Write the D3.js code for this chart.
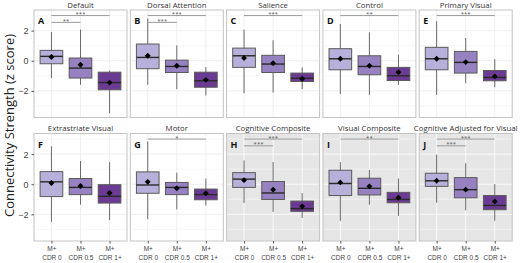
<!DOCTYPE html>
<html>
<head>
<meta charset="utf-8">
<script src="https://cdn.jsdelivr.net/npm/d3@7"></script>
<style>
  body { margin: 0; background: #fff; }
  svg { display: block; font-family: "Open Sans", "Noto Sans", sans-serif; }
</style>
</head>
<body>
<div id="chart"></div>
<script>
// Panel titles / letters (facet order, row-wise)
const panelTitles = ["Default", "Dorsal Attention", "Salience", "Control", "Primary Visual",
  "Extrastriate Visual", "Motor", "Cognitive Composite", "Visual Composite", "Cognitive Adjusted for Visual"];
const panelLetters = ["A", "B", "C", "D", "E", "F", "G", "H", "I", "J"];
const greyPanels = [false, false, false, false, false, false, false, true, true, true];
const groups = ["CDR 0", "CDR 0.5", "CDR 1+"];
const yTicks = [-2, 0, 2];

// box statistics per panel, per group (CDR 0, CDR 0.5, CDR 1+)
const whiskerHigh = [
  [1.91, 2.07, -0.65], [2.8, 1.02, -0.42], [2.07, 1.36, -0.44], [2.44, 1.89, 0.4], [2.62, 1.51, 0.11],
  [2.52, 1.54, 1.47], [2.84, 0.77, 0.38], [1.58, 1.47, -0.58], [1.47, 0.95, 0.38], [1.97, 1.39, 0.01]
];
const q3 = [
  [0.69, 0.18, -0.76], [1.11, 0.04, -0.76], [0.84, 0.36, -0.82], [0.8, 0.33, -0.44], [0.89, 0.62, -0.65],
  [0.84, 0.38, -0.03], [0.82, 0.12, -0.32], [0.77, 0.18, -1.12], [0.93, 0.4, -0.54], [0.73, 0.44, -0.75]
];
const medians = [
  [0.29, -0.49, -1.45], [0.22, -0.38, -1.33], [0.33, -0.22, -1.16], [0.13, -0.38, -1.0], [0.13, -0.11, -1.11],
  [0.16, -0.21, -0.8], [-0.05, -0.21, -0.69], [0.34, -0.58, -1.62], [0.05, -0.27, -1.01], [0.23, -0.36, -1.41]
];
const q1 = [
  [-0.2, -1.15, -1.93], [-0.53, -0.78, -1.76], [-0.44, -0.78, -1.38], [-0.6, -0.93, -1.31], [-0.6, -0.82, -1.33],
  [-0.82, -0.69, -1.25], [-0.6, -0.69, -1.03], [-0.21, -1.01, -1.8], [-0.75, -0.71, -1.23], [-0.14, -0.9, -1.69]
];
const whiskerLow = [
  [-1.15, -1.6, -3.49], [-1.6, -1.89, -2.31], [-2.16, -2.11, -1.89], [-2.22, -2.27, -1.6], [-2.27, -1.49, -1.76],
  [-2.5, -1.36, -2.39], [-2.32, -1.67, -1.41], [-1.25, -1.84, -2.24], [-2.43, -1.36, -2.1], [-1.23, -1.73, -2.43]
];
const means = [
  [0.25, -0.27, -1.45], [0.33, -0.33, -1.27], [0.18, -0.16, -1.2], [0.13, -0.33, -0.76], [0.13, -0.09, -1.04],
  [0.08, -0.12, -0.58], [0.16, -0.27, -0.6], [0.27, -0.36, -1.47], [0.12, -0.14, -0.9], [0.23, -0.36, -1.14]
];
// significance: CDR 0 vs CDR 1+ (upper bar) and CDR 0 vs CDR 0.5 (lower bar); "" = none
const sigVs1 = ["***", "***", "***", "**", "***", "", "*", "***", "**", "***"];
const sigVs05 = ["**", "***", "", "", "", "", "", "***", "", "***"];
const sigLevels = [3.0, 2.55];

const fills = ["#b7b0da", "#9682c1", "#6b3a93"];

const W = 520, H = 263;
const panelW = 93, panelH = 107.5;
const colStep = 96.3, left0 = 34;
const rowTops = [10, 133.5];

const svg = d3.select("#chart").append("svg")
  .attr("width", W).attr("height", H);

const y = d3.scaleLinear().domain([-3.77, 3.37]).range([panelH, 0]);
const x = d3.scalePoint().domain(groups).range([0, panelW]).padding(0.6);
const boxW = x.step() * 0.78;

panelTitles.forEach((title, i) => {
  const row = Math.floor(i / 5), col = i % 5;
  const g = svg.append("g")
    .attr("transform", `translate(${left0 + col * colStep},${rowTops[row]})`);
  const grey = greyPanels[i];

  g.append("rect")
    .attr("width", panelW).attr("height", panelH)
    .attr("fill", grey ? "#e6e6e6" : "#fff");

  // grid lines
  const gridColor = grey ? "#fafafa" : "#efefef";
  g.selectAll(".minor").data([-3, -1, 1, 3]).enter().append("line")
    .attr("x1", 0).attr("x2", panelW)
    .attr("y1", d => y(d)).attr("y2", d => y(d))
    .attr("stroke", gridColor).attr("stroke-width", 0.5);
  g.selectAll(".major").data(yTicks).enter().append("line")
    .attr("x1", 0).attr("x2", panelW)
    .attr("y1", d => y(d)).attr("y2", d => y(d))
    .attr("stroke", gridColor).attr("stroke-width", 1);
  g.selectAll(".vgrid").data(groups).enter().append("line")
    .attr("x1", d => x(d)).attr("x2", d => x(d))
    .attr("y1", 0).attr("y2", panelH)
    .attr("stroke", gridColor).attr("stroke-width", 1);

  g.append("rect")
    .attr("width", panelW).attr("height", panelH)
    .attr("fill", "none").attr("stroke", "#c4c4c4").attr("stroke-width", 1);

  // title
  g.append("text")
    .attr("x", panelW / 2).attr("y", -2.5)
    .attr("text-anchor", "middle")
    .style("font-size", "7.8px").style("fill", "#333")
    .text(title);

  // letter
  g.append("text")
    .attr("x", 4).attr("y", 14)
    .style("font-size", "9px").style("font-weight", "bold").style("fill", "#111")
    .text(panelLetters[i]);

  const stats = groups.map((grp, j) => ({
    grp, j,
    hi: whiskerHigh[i][j], q3: q3[i][j], med: medians[i][j],
    q1: q1[i][j], lo: whiskerLow[i][j], mean: means[i][j]
  }));

  // whiskers
  g.selectAll(".whisker").data(stats).enter().append("line")
    .attr("x1", d => x(d.grp)).attr("x2", d => x(d.grp))
    .attr("y1", d => y(d.hi)).attr("y2", d => y(d.lo))
    .attr("stroke", "#6a6a6a").attr("stroke-width", 1);

  // boxes
  g.selectAll(".box").data(stats).enter().append("rect")
    .attr("x", d => x(d.grp) - boxW / 2).attr("width", boxW)
    .attr("y", d => y(d.q3)).attr("height", d => y(d.q1) - y(d.q3))
    .attr("fill", d => fills[d.j])
    .attr("stroke", "#5a5a5a").attr("stroke-width", 1);

  // medians
  g.selectAll(".median").data(stats).enter().append("line")
    .attr("x1", d => x(d.grp) - boxW / 2).attr("x2", d => x(d.grp) + boxW / 2)
    .attr("y1", d => y(d.med)).attr("y2", d => y(d.med))
    .attr("stroke", "#2a2a2a").attr("stroke-width", 1.4);

  // means
  g.selectAll(".mean").data(stats).enter().append("path")
    .attr("d", d3.symbol(d3.symbolDiamond2, 22))
    .attr("transform", d => `translate(${x(d.grp)},${y(d.mean)})`)
    .attr("fill", "#000");

  // significance bars
  const sig = [];
  if (sigVs1[i]) sig.push({ label: sigVs1[i], to: groups[2], level: sigLevels[0] });
  if (sigVs05[i]) sig.push({ label: sigVs05[i], to: groups[1], level: sigLevels[1] });
  sig.forEach(s => {
    g.append("line")
      .attr("x1", x(groups[0])).attr("x2", x(s.to))
      .attr("y1", y(s.level)).attr("y2", y(s.level))
      .attr("stroke", "#9a9a9a").attr("stroke-width", 1);
    g.append("text")
      .attr("x", (x(groups[0]) + x(s.to)) / 2).attr("y", y(s.level) + 0.5)
      .attr("text-anchor", "middle")
      .style("font-size", "6px").style("fill", "#555")
      .text(s.label);
  });

  // y axis on first column
  if (col === 0) {
    const ya = g.append("g").call(d3.axisLeft(y).tickValues(yTicks).tickSize(2.5).tickFormat(d3.format("d")));
    ya.select(".domain").remove();
    ya.selectAll("line").attr("stroke", "#555");
    ya.selectAll("text").style("font-size", "9px").style("fill", "#444")
      .text(d => d < 0 ? "\u2212" + Math.abs(d) : d);
  }

  // x axis on bottom row
  if (row === 1) {
    const xa = g.append("g").attr("transform", `translate(0,${panelH})`)
      .call(d3.axisBottom(x).tickSize(2.5).tickFormat(""));
    xa.select(".domain").remove();
    xa.selectAll("line").attr("stroke", "#555");
    xa.selectAll(".tick").each(function (d) {
      const t = d3.select(this).append("text")
        .attr("text-anchor", "middle")
        .style("font-size", "6.5px").style("fill", "#444");
      t.append("tspan").attr("x", 0).attr("y", 9.5).text("M+");
      t.append("tspan").attr("x", 0).attr("y", 18.5).text(d);
    });
  }
});

// y axis title
svg.append("text")
  .attr("transform", `translate(14,${(rowTops[0] + rowTops[1] + panelH) / 2}) rotate(-90)`)
  .attr("text-anchor", "middle")
  .style("font-size", "13px").style("fill", "#222")
  .text("Connectivity Strength (z score)");
</script>
</body>
</html>
